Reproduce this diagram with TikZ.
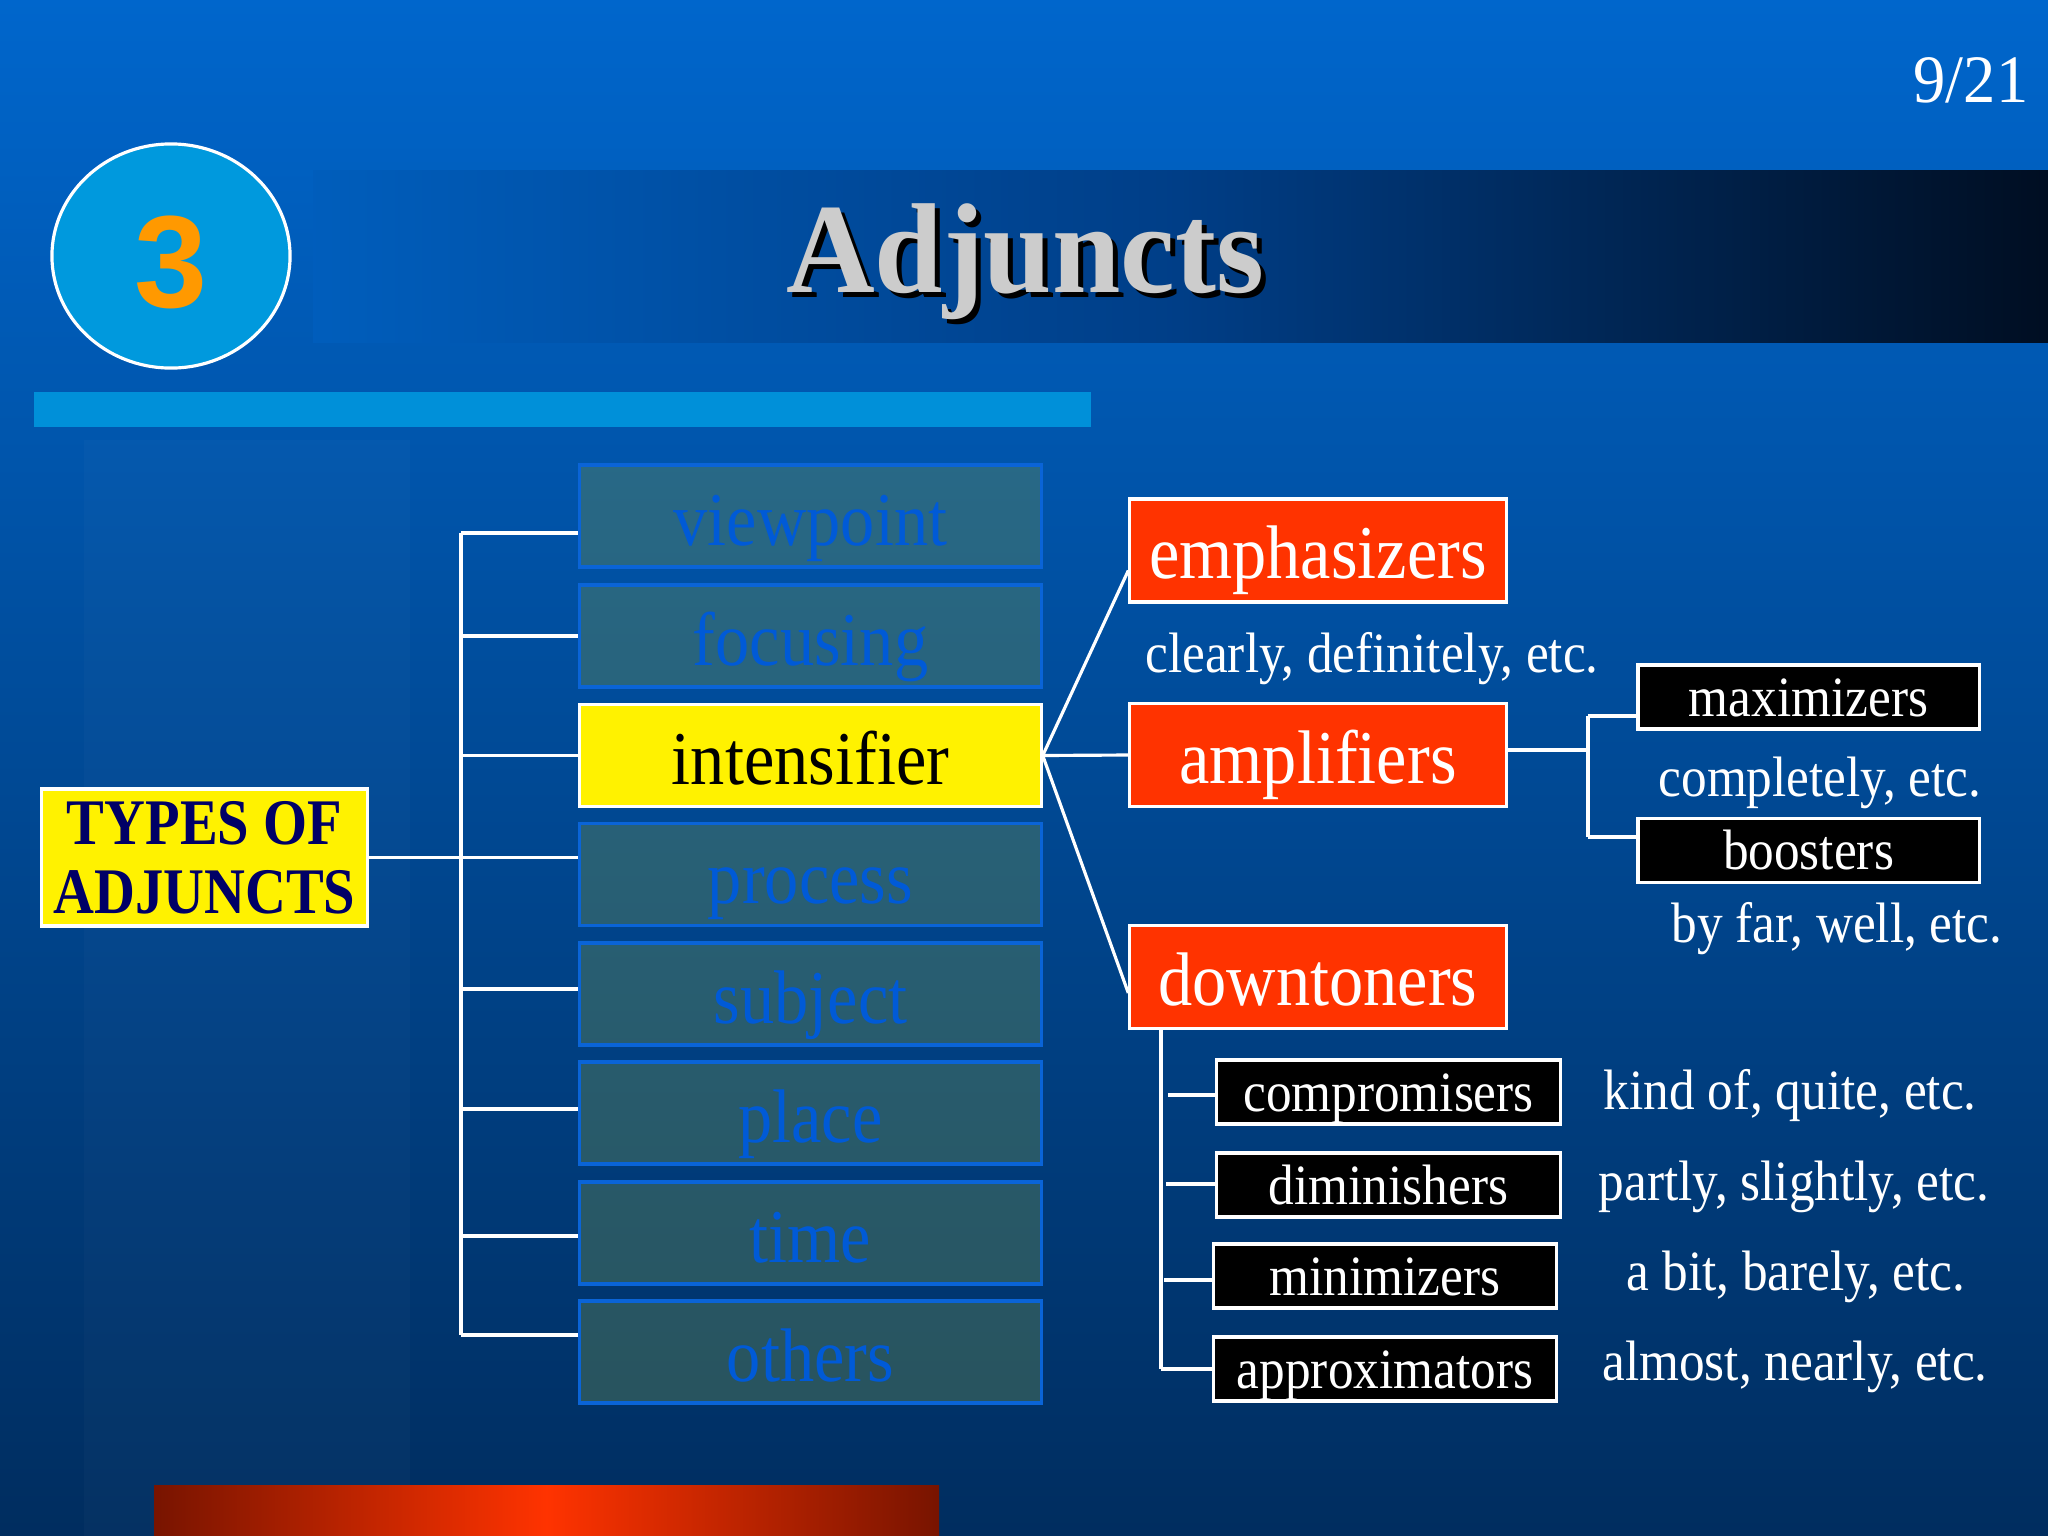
\documentclass[tikz,border=0pt]{standalone}
\usepackage{fontspec}
\setmainfont{Liberation Serif}
\newfontfamily\sansf{Liberation Sans}
\usepackage{graphicx}
\usetikzlibrary{calc,shapes.geometric}
\definecolor{bgtop}{RGB}{0,102,204}
\definecolor{bgbot}{RGB}{0,45,95}
\definecolor{lbar}{RGB}{0,144,217}
\definecolor{circ}{RGB}{0,153,221}
\definecolor{orng}{RGB}{255,153,0}
\definecolor{ttl}{RGB}{204,204,204}
\definecolor{gfill}{RGB}{100,135,80}
\definecolor{gdraw}{RGB}{10,100,215}
\definecolor{gtext}{RGB}{0,90,215}
\definecolor{redb}{RGB}{255,51,0}
\definecolor{navy}{RGB}{0,0,102}
\definecolor{dred}{RGB}{120,20,0}
\definecolor{bandmid}{RGB}{0,62,135}
\definecolor{bandend}{RGB}{0,14,34}
\newcommand{\cnd}[2][0.9]{\scalebox{#1}[1]{#2}}
\newcommand{\fbig}{\fontsize{21.6}{24}\selectfont}
\newcommand{\fsml}{\fontsize{16.2}{18}\selectfont}
\tikzset{
  conn/.style={draw=white, line width=0.9pt},
  graybox/.style={draw=gdraw, line width=0.9pt, fill=gfill, fill opacity=0.4, text opacity=1,
    text=gtext, minimum width=4.61cm, minimum height=1.02cm, inner sep=0pt,
    text height=0.58cm, text depth=0cm, font=\fbig},
  yelbox/.style={graybox, draw=white, fill=yellow, fill opacity=1, text=black},
  redbox/.style={draw=white, line width=0.9pt, fill=redb, text=white,
    minimum width=3.76cm, minimum height=1.03cm, inner sep=0pt,
    text height=0.56cm, text depth=0cm, font=\fbig},
  blkbox/.style={draw=white, line width=0.9pt, fill=black, text=white,
    minimum height=0.64cm, inner sep=0pt, text height=0.38cm, text depth=0cm, font=\fsml},
  exlabel/.style={text=white, anchor=base, inner sep=0pt, font=\fsml},
}
\begin{document}
\begin{tikzpicture}[x=0.01cm, y=-0.01cm]
\useasboundingbox (0,0) rectangle (2048,1536);
% background
\shade[top color=bgtop, bottom color=bgbot] (0,0) rectangle (2048,1536);
\fill[white, opacity=0.02] (84,440) rectangle (410,1536);
% title band
\shade[left color=bgtop!85!bgbot, right color=bandmid] (313,170) rectangle (1180,342);
\shade[left color=bandmid, right color=bandend] (1179,170) rectangle (2048,342);
% light bar
\fill[lbar] (34,392) rectangle (1091,427);
% bottom red bar
\shade[left color=dred, right color=redb] (154,1485) rectangle (547,1536);
\shade[left color=redb, right color=dred] (546,1485) rectangle (939,1536);
% circle
\node[ellipse, draw=white, line width=0.9pt, fill=circ, minimum width=2.38cm, minimum height=2.24cm, inner sep=0pt] (circ) at (171,256) {};
\node[anchor=base, text=orng, inner sep=0pt, font=\sansf\bfseries\fontsize{37.3}{40}\selectfont] (num) at (171,307) {3};
% title
\node[anchor=base, text=black, inner sep=0pt, font=\bfseries\fontsize{36.4}{40}\selectfont] (ttlshadow) at (1030,297) {\cnd[0.96]{Adjuncts}};
\node[anchor=base, text=ttl, inner sep=0pt, font=\bfseries\fontsize{36.4}{40}\selectfont] (title) at (1025,292) {\cnd[0.96]{Adjuncts}};
% page number
\node[anchor=base, text=white, inner sep=0pt, font=\fontsize{19.3}{22}\selectfont] (page) at (1971,102) {\cnd[0.95]{9/21}};
% types
\node[draw=white, line width=0.9pt, fill=yellow, text=navy, minimum width=3.25cm, minimum height=1.37cm,
  inner sep=0pt, align=center, font=\bfseries\fontsize{18.5}{19.6}\selectfont] (types) at (204.5,857.5)
  {\cnd[0.87]{TYPES OF}\\\cnd[0.87]{ADJUNCTS}};
% middle column
\node[graybox] (vp) at (810.5,516) {\cnd{viewpoint}};
\node[graybox] (fo) at (810.5,636) {\cnd{focusing}};
\node[yelbox]  (in) at (810.5,755.5) {\cnd{intensifier}};
\node[graybox] (pr) at (810.5,874.5) {\cnd{process}};
\node[graybox] (su) at (810.5,994) {\cnd{subject}};
\node[graybox] (pl) at (810.5,1113) {\cnd{place}};
\node[graybox] (ti) at (810.5,1233) {\cnd{time}};
\node[graybox] (ot) at (810.5,1352) {\cnd{others}};
% trunk
\coordinate (ttop) at (461,533);
\coordinate (tbot) at (461,1335);
\draw[conn] (ttop) -- (tbot);
\draw[conn] (types.east) -- (types.east -| pr.west);
\draw[conn] (ttop) -- ($(vp.west)+(0,17)$);
\draw[conn] (ttop |- fo.west) -- (fo.west);
\draw[conn] (ttop |- in.west) -- (in.west);
\draw[conn] ($(ttop |- su.west)+(0,-5)$) -- ($(su.west)+(0,-5)$);
\draw[conn] ($(ttop |- pl.west)+(0,-4)$) -- ($(pl.west)+(0,-4)$);
\draw[conn] ($(ttop |- ti.west)+(0,3)$) -- ($(ti.west)+(0,3)$);
\draw[conn] (tbot) -- (tbot -| ot.west);
% red boxes
\node[redbox] (em) at (1318,550.5) {\cnd{emphasizers}};
\node[redbox] (am) at (1318,755) {\cnd{amplifiers}};
\node[redbox] (dt) at (1318,977) {\cnd{downtoners}};
\draw[conn] (in.east) -- ($(em.west)+(0,20)$);
\draw[conn] (in.east) -- (am.west);
\draw[conn] (in.east) -- ($(dt.west)+(0,16)$);
\node[exlabel] (exem) at (1372,672) {\cnd{clearly, definitely, etc.}};
% amplifiers sub
\node[blkbox, minimum width=3.41cm] (mx) at (1808.5,697) {\cnd{maximizers}};
\node[blkbox, minimum width=3.41cm] (bo) at (1808.5,850.5) {\cnd{boosters}};
\coordinate (aj) at (1588,750);
\coordinate (atop) at (1588,716);
\coordinate (abot) at (1588,837);
\draw[conn] (am.east |- aj) -- (aj);
\draw[conn] (atop) -- (abot);
\draw[conn] (atop) -- (atop -| mx.west);
\draw[conn] (abot) -- (abot -| bo.west);
\node[exlabel] (exmx) at (1820,796) {\cnd{completely, etc.}};
\node[exlabel] (exbo) at (1837,942) {\cnd{by far, well, etc.}};
% downtoners sub
\node[blkbox, minimum width=3.43cm] (cp) at (1388.5,1092) {\cnd{compromisers}};
\node[blkbox, minimum width=3.43cm] (dm) at (1388.5,1185) {\cnd{diminishers}};
\node[blkbox, minimum width=3.42cm] (mn) at (1385,1276) {\cnd{minimizers}};
\node[blkbox, minimum width=3.42cm] (ap) at (1385,1369) {\cnd{approximators}};
\coordinate (dtop) at (1161,1028);
\coordinate (dbot) at (1161,1369);
\draw[conn] (dtop) -- (dbot);
\draw[conn] (1168,1095) -- (cp.west |- 1168,1095);
\draw[conn] (1166,1184) -- (dm.west |- 1166,1184);
\draw[conn] (1164,1280) -- (mn.west |- 1164,1280);
\draw[conn] (dbot) -- (ap.west);
\node[exlabel] (excp) at (1790,1109) {\cnd{kind of, quite, etc.}};
\node[exlabel] (exdm) at (1794,1200) {\cnd{partly, slightly, etc.}};
\node[exlabel] (exmn) at (1796,1290) {\cnd{a bit, barely, etc.}};
\node[exlabel] (exap) at (1795,1380) {\cnd{almost, nearly, etc.}};
\end{tikzpicture}
\end{document}
